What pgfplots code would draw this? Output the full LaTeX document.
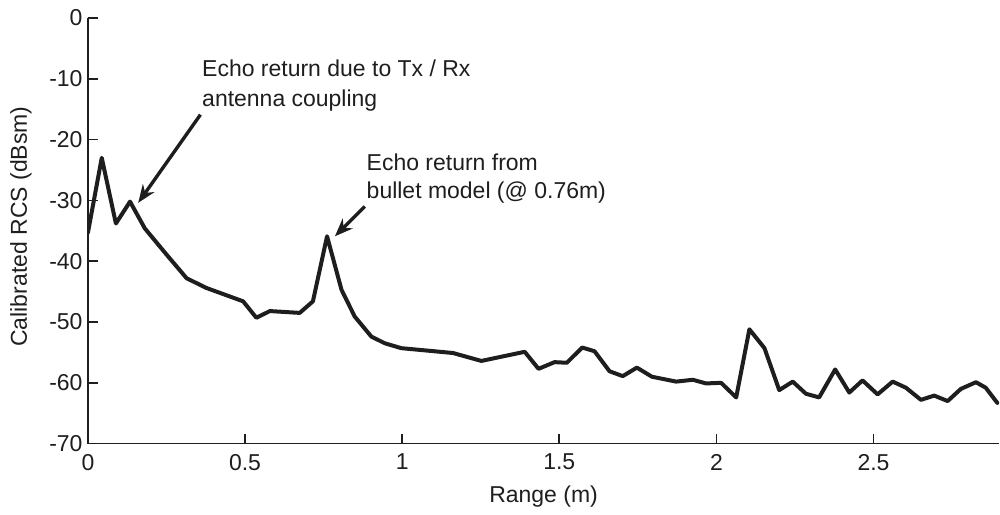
\documentclass[border=0pt]{standalone}
\usepackage{fontspec}
\setmainfont{Liberation Sans}
\usepackage{pgfplots}
\pgfplotsset{compat=1.18}
\usetikzlibrary{arrows.meta}

\definecolor{ink}{HTML}{1E1E1E}

\begin{document}
\begin{tikzpicture}
\begin{axis}[
  scale only axis,
  width=456pt, height=213pt,
  xmin=0, xmax=2.9, ymin=-70, ymax=0,
  axis lines=left,
  axis line style={-, line width=0.8pt, color=ink},
  every tick/.style={line width=0.8pt, color=ink},
  tick align=inside,
  major tick length=5pt,
  xtick={0,0.5,1,1.5,2,2.5},
  xticklabels={0,0.5,1,1.5,2,2.5},
  ytick={-70,-60,-50,-40,-30,-20,-10,0},
  yticklabels={-70,-60,-50,-40,-30,-20,-10,0},
  tick label style={font=\fontsize{11.5}{13}\selectfont, text=ink},
  xticklabel style={yshift=-1.7pt},
  yticklabel style={xshift=0.8pt},
  xlabel={Range (m)},
  ylabel={Calibrated RCS (dBsm)},
  label style={font=\fontsize{11.5}{13}\selectfont, text=ink},
  xlabel style={at={(axis description cs:0.5,0)}, anchor=base, yshift=-29.5pt},
  ylabel style={at={(axis description cs:-0.0735,0.51)}, anchor=center},
  clip=true,
]
\coordinate (ll) at (rel axis cs:0,0);
\coordinate (ur) at (rel axis cs:1,1);

% calibrated range profile
\addplot[color=ink, line width=2pt, line join=round, line cap=round] coordinates {
  (0.000,-35.3) (0.044,-23.0) (0.089,-33.8) (0.134,-30.2) (0.181,-34.6)
  (0.250,-38.9) (0.314,-42.8) (0.377,-44.4) (0.494,-46.6) (0.536,-49.3)
  (0.579,-48.2) (0.674,-48.5) (0.716,-46.6) (0.761,-35.9) (0.807,-44.7)
  (0.849,-49.1) (0.902,-52.4) (0.945,-53.5) (0.997,-54.3) (1.080,-54.7)
  (1.162,-55.1) (1.252,-56.4) (1.390,-54.9) (1.434,-57.7) (1.485,-56.6)
  (1.524,-56.7) (1.573,-54.2) (1.612,-54.8) (1.660,-58.1) (1.702,-58.9)
  (1.747,-57.5) (1.795,-59.0) (1.872,-59.8) (1.925,-59.5) (1.967,-60.1)
  (2.015,-60.0) (2.063,-62.4) (2.105,-51.2) (2.153,-54.3) (2.200,-61.2)
  (2.243,-59.8) (2.285,-61.8) (2.327,-62.4) (2.378,-57.8) (2.423,-61.6)
  (2.465,-59.6) (2.513,-61.9) (2.561,-59.8) (2.603,-60.8) (2.651,-62.8)
  (2.693,-62.1) (2.736,-63.0) (2.778,-61.0) (2.826,-59.9) (2.857,-60.8)
  (2.894,-63.3)
};

% annotations
\draw[ink, line width=1.7pt, -{Stealth[length=9pt,width=7pt]}]
  (axis cs:0.358,-15.9) -- (axis cs:0.160,-30.4);
\draw[ink, line width=1.7pt, -{Stealth[length=9pt,width=7pt]}]
  (axis cs:0.881,-31.0) -- (axis cs:0.786,-35.9);
\node[anchor=north west, inner sep=0pt, align=left, text=ink,
      font=\fontsize{11.5}{14.8}\selectfont]
  at (axis cs:0.3625,-6.9) {Echo return due to Tx / Rx\\antenna coupling};
\node[anchor=north west, inner sep=0pt, align=left, text=ink,
      font=\fontsize{11.5}{14}\selectfont]
  at (axis cs:0.886,-22.2) {Echo return from\\bullet model (@ 0.76m)};
\end{axis}
\path ([shift={(-44pt,-34.5pt)}]ll) rectangle ([shift={(0pt,9pt)}]ur);
\end{tikzpicture}
\end{document}
